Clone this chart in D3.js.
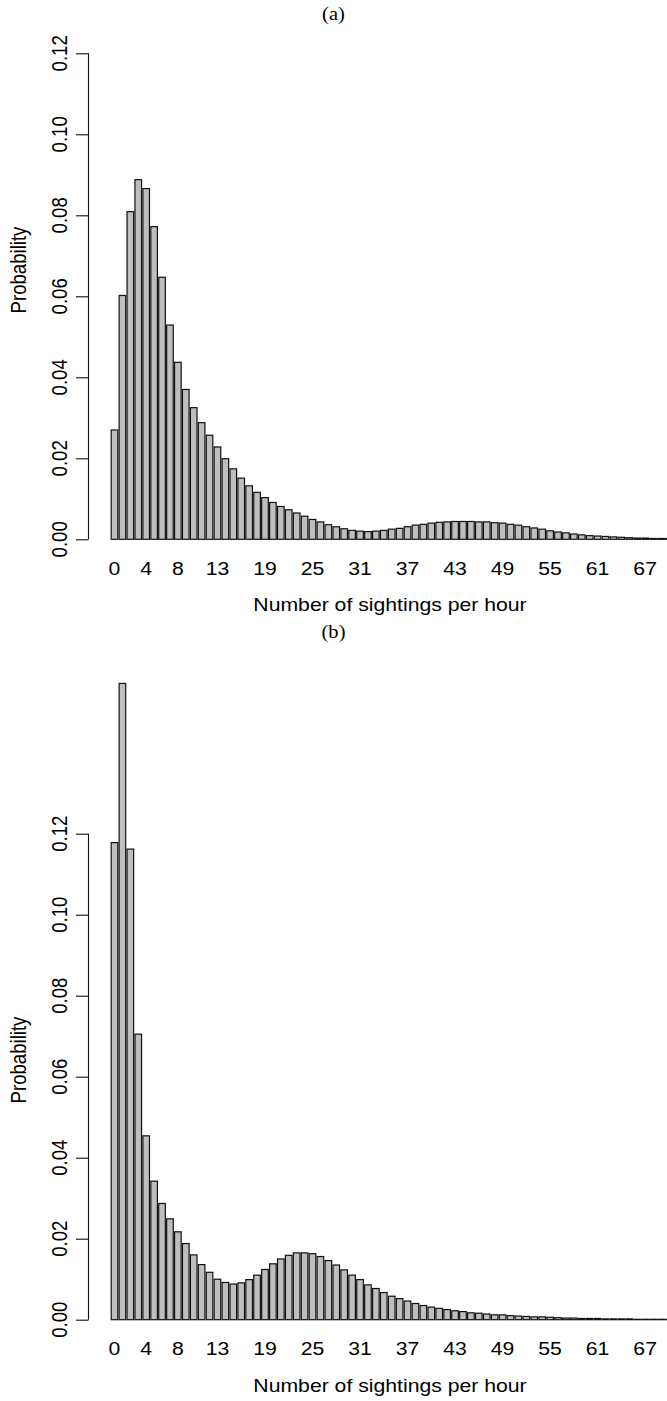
<!DOCTYPE html>
<html>
<head>
	<meta charset="utf-8">
	<title>sightings per hour</title>
	<script src="https://cdn.jsdelivr.net/npm/d3@7/dist/d3.min.js"></script>
	<style>
		body { margin: 0; background: #fff; }
		svg { display: block; }
		text { font-family: "Liberation Sans", Arial, Helvetica, sans-serif; fill: #000; }
		.ttl { font-family: "Liberation Serif", "Times New Roman", serif; }
	</style>
</head>
<body>
<div id="chart"></div>
<script type="text/javascript">
	// counts 0..70 (sightings per hour)
	var categories = d3.range(0, 71);
	var tickLabels = [0, 4, 8, 13, 19, 25, 31, 37, 43, 49, 55, 61, 67];
	var yTicks = [0, 0.02, 0.04, 0.06, 0.08, 0.10, 0.12];

	var probA = [0.0270, 0.0602, 0.0809, 0.0888, 0.0866, 0.0772, 0.0647, 0.0529, 0.0437, 0.0370,
		0.0325, 0.0288, 0.0257, 0.0228, 0.0199, 0.0174, 0.0151, 0.0132, 0.0116, 0.0103,
		0.0091, 0.0081, 0.0073, 0.0065, 0.0057, 0.0049, 0.0043, 0.0036, 0.0031, 0.0026,
		0.0022, 0.0020, 0.0019, 0.0020, 0.0022, 0.0025, 0.0027, 0.0031, 0.0035, 0.0037,
		0.0040, 0.0042, 0.0043, 0.0044, 0.0044, 0.0044, 0.0043, 0.0043, 0.0041, 0.0040,
		0.0037, 0.0035, 0.0031, 0.0028, 0.0025, 0.0021, 0.0018, 0.0016, 0.0013, 0.0011,
		0.0009, 0.0008, 0.0007, 0.0006, 0.0005, 0.0004, 0.0003, 0.0003, 0.0002, 0.0002, 0.0002];

	var probB = [0.1178, 0.1571, 0.1162, 0.0705, 0.0454, 0.0342, 0.0287, 0.0249, 0.0217, 0.0188,
		0.0160, 0.0136, 0.0117, 0.0100, 0.0092, 0.0088, 0.0091, 0.0099, 0.0110, 0.0124,
		0.0138, 0.0150, 0.0159, 0.0165, 0.0165, 0.0163, 0.0156, 0.0146, 0.0135, 0.0123,
		0.0110, 0.0099, 0.0086, 0.0077, 0.0067, 0.0058, 0.0052, 0.0046, 0.0040, 0.0035,
		0.0031, 0.0028, 0.0025, 0.0022, 0.0020, 0.0017, 0.0016, 0.0014, 0.0012, 0.0012,
		0.0010, 0.0009, 0.0008, 0.0007, 0.0007, 0.0006, 0.0005, 0.0004, 0.0004, 0.0003,
		0.0003, 0.0003, 0.0002, 0.0002, 0.0002, 0.0002, 0.0001, 0.0001, 0.0001, 0.0001, 0.0001];

	var W = 667, H = 1401;
	var axisX = 88.5;
	var fs = 18.6, sx = 1.14;   // picture is stretched sideways a bit

	var svg = d3.select("#chart").append("svg")
		.attr("width", W)
		.attr("height", H);

	var x = d3.scaleBand()
		.domain(categories)
		.range([111.2, 111.2 + 7.92 * (categories.length - 1 / 6)])
		.paddingInner(1 / 6)
		.paddingOuter(0);

	function panel(values, base, title, titleY, ylabY) {
		var y = d3.scaleLinear().domain([0, 0.12]).range([base, base - 486]);
		var g = svg.append("g");

		g.selectAll("rect.bar")
			.data(values)
			.enter()
			.append("rect")
			.attr("class", "bar")
			.attr("x", function(d, i) { return x(categories[i]); })
			.attr("width", x.bandwidth())
			.attr("y", function(d) { return y(d); })
			.attr("height", function(d) { return base - y(d); })
			.attr("fill", "#bebebe")
			.attr("stroke", "#111")
			.attr("stroke-width", 1.2);

		// y axis, R style: line only between first and last tick
		var yAxis = d3.axisLeft(y).tickValues(yTicks).tickSize(12.5).tickFormat(d3.format(".2f"));
		var ax = g.append("g").attr("transform", "translate(" + axisX + ",0)").call(yAxis);
		ax.select(".domain").attr("d", "M0," + y(0) + "V" + y(0.12)).attr("stroke", "#111").attr("stroke-width", 1.1);
		ax.selectAll(".tick line").attr("stroke", "#111").attr("stroke-width", 1.1);
		ax.selectAll(".tick text").remove();

		g.selectAll("text.ytick")
			.data(yTicks)
			.enter()
			.append("text")
			.attr("class", "ytick")
			.attr("transform", function(d) { return "translate(67," + y(d) + ") scale(" + sx + ",1) rotate(-90)"; })
			.attr("text-anchor", "middle")
			.style("font-size", fs + "px")
			.text(d3.format(".2f"));

		g.selectAll("text.xtick")
			.data(tickLabels)
			.enter()
			.append("text")
			.attr("class", "xtick")
			.attr("transform", function(d) { return "translate(" + (x(d) + x.bandwidth() / 2) + "," + (base + 35.5) + ") scale(" + sx + ",1)"; })
			.attr("text-anchor", "middle")
			.style("font-size", fs + "px")
			.text(function(d) { return d; });

		g.append("text")
			.attr("transform", "translate(390," + (base + 72) + ") scale(" + sx + ",1)")
			.attr("text-anchor", "middle")
			.style("font-size", fs + "px")
			.text("Number of sightings per hour");

		g.append("text")
			.attr("transform", "translate(25.5," + ylabY + ") scale(" + sx + ",1) rotate(-90)")
			.attr("text-anchor", "middle")
			.style("font-size", fs + "px")
			.text("Probability");

		g.append("text")
			.attr("class", "ttl")
			.attr("transform", "translate(333.5," + titleY + ") scale(" + sx + ",1)")
			.attr("text-anchor", "middle")
			.style("font-size", "18px")
			.text(title);
	}

	panel(probA, 539.3, "(a)", 20, 270);
	panel(probB, 1319.7, "(b)", 638, 1060);
</script>
</body>
</html>
